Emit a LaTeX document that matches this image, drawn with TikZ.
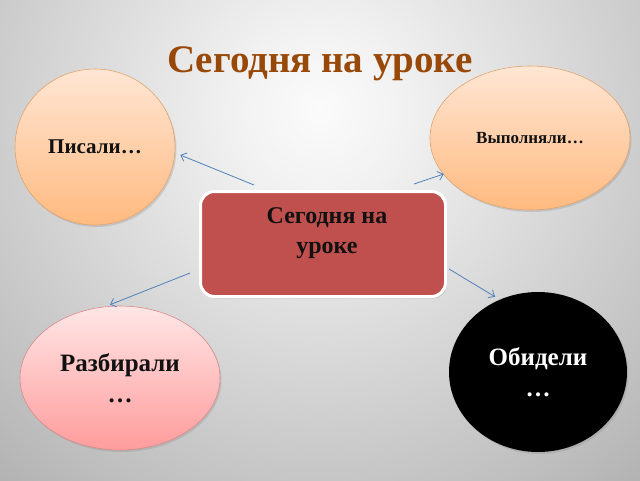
\documentclass[tikz,border=0pt]{standalone}
\usepackage{fontspec}
\setmainfont{Liberation Serif}
\usetikzlibrary{shapes.geometric,arrows.meta,calc,shadows}
\definecolor{bgc0}{HTML}{FBFBFB}
\definecolor{bgc1}{HTML}{F2F2F2}
\definecolor{bgc2}{HTML}{BEBEBE}
\definecolor{bgc3}{HTML}{9A9A9A}
\definecolor{bgc4}{HTML}{8C8C8C}
\definecolor{bgc5}{HTML}{858585}
\definecolor{titlebrown}{HTML}{984807}
\definecolor{peachtop}{HTML}{FFE6D4}
\definecolor{peachbot}{HTML}{FFBA80}
\definecolor{peachline}{HTML}{E2A36C}
\definecolor{pinktop}{HTML}{FFE6E6}
\definecolor{pinkbot}{HTML}{FF9C9C}
\definecolor{pinkline}{HTML}{D88A8A}
\definecolor{boxred}{HTML}{C0504D}
\definecolor{arrblue}{HTML}{4F81BD}
\definecolor{txtdark}{HTML}{111111}
\pgfdeclareradialshading{bgshade}{\pgfpoint{0bp}{0bp}}{color(0bp)=(bgc0); color(4bp)=(bgc1); color(21bp)=(bgc2); color(32bp)=(bgc3); color(42bp)=(bgc4); color(50bp)=(bgc5)}
\begin{document}
\begin{tikzpicture}[x=1pt,y=-1pt,
  titlestyle/.style={font=\fontsize{39}{46}\selectfont\bfseries, text=titlebrown, inner sep=0pt},
  ell/.style={ellipse, inner sep=0pt, align=center, line width=0.6pt,
    drop shadow={opacity=0.25, shadow xshift=1.5pt, shadow yshift=-2pt}},
  peach/.style={ell, draw=peachline, top color=peachtop, bottom color=peachbot, text=txtdark},
  pinkell/.style={ell, draw=pinkline, top color=pinktop, bottom color=pinkbot, text=txtdark},
  blackell/.style={ell, fill=black, text=white},
  boxstyle/.style={rectangle, rounded corners=14pt, draw=white, line width=3pt, fill=boxred,
    drop shadow={opacity=0.25, shadow xshift=1.5pt, shadow yshift=-2pt}},
  boxtext/.style={align=center, text=txtdark, font=\fontsize{24}{30}\selectfont\bfseries, inner sep=0pt},
  arr/.style={draw=arrblue, line width=0.8pt, -{Straight Barb[length=5pt,width=9pt]}}
]
\useasboundingbox (0,0) rectangle (640,480);
\begin{scope}
  \clip (0,0) rectangle (640,480);
  \fill[bgc5] (0,0) rectangle (640,480);
  \shade[shading=bgshade] (320,110) circle [radius=500pt];
\end{scope}

\node[titlestyle] (ttl) at (320,64) {Сегодня на уроке};

\node[peach, minimum width=160pt, minimum height=156pt,
  font=\fontsize{21}{25}\selectfont\bfseries] (pis) at (95,147) {Писали…};
\node[peach, minimum width=200pt, minimum height=144pt,
  font=\fontsize{17}{20}\selectfont\bfseries] (vyp) at (530,138) {Выполняли…};
\node[pinkell, minimum width=200pt, minimum height=144pt,
  font=\fontsize{25}{31}\selectfont\bfseries] (razb) at (120,378) {Разбирали\\…};
\node[blackell, minimum width=178pt, minimum height=160pt,
  font=\fontsize{25}{31}\selectfont\bfseries] (obid) at (538,372) {Обидели\\…};

\node[boxstyle, minimum width=245pt, minimum height=105pt] (mid) at (323,244) {};
\node[boxtext] (midtext) at (327,233) {Сегодня на\\уроке};

\draw[arr] ($(mid.north west)+(55,-5)$) -- ($(pis.east)+(5,8)$);
\draw[arr] ($(mid.north east)+(-33,-6)$) -- ($(vyp.west)+(14,36)$);
\draw[arr] ($(mid.south west)+(-9,-25)$) -- ($(razb.north)+(-10,-1)$);
\draw[arr] ($(mid.south east)+(2,-29)$) -- ($(obid.north)+(-43,5)$);
\end{tikzpicture}
\end{document}
